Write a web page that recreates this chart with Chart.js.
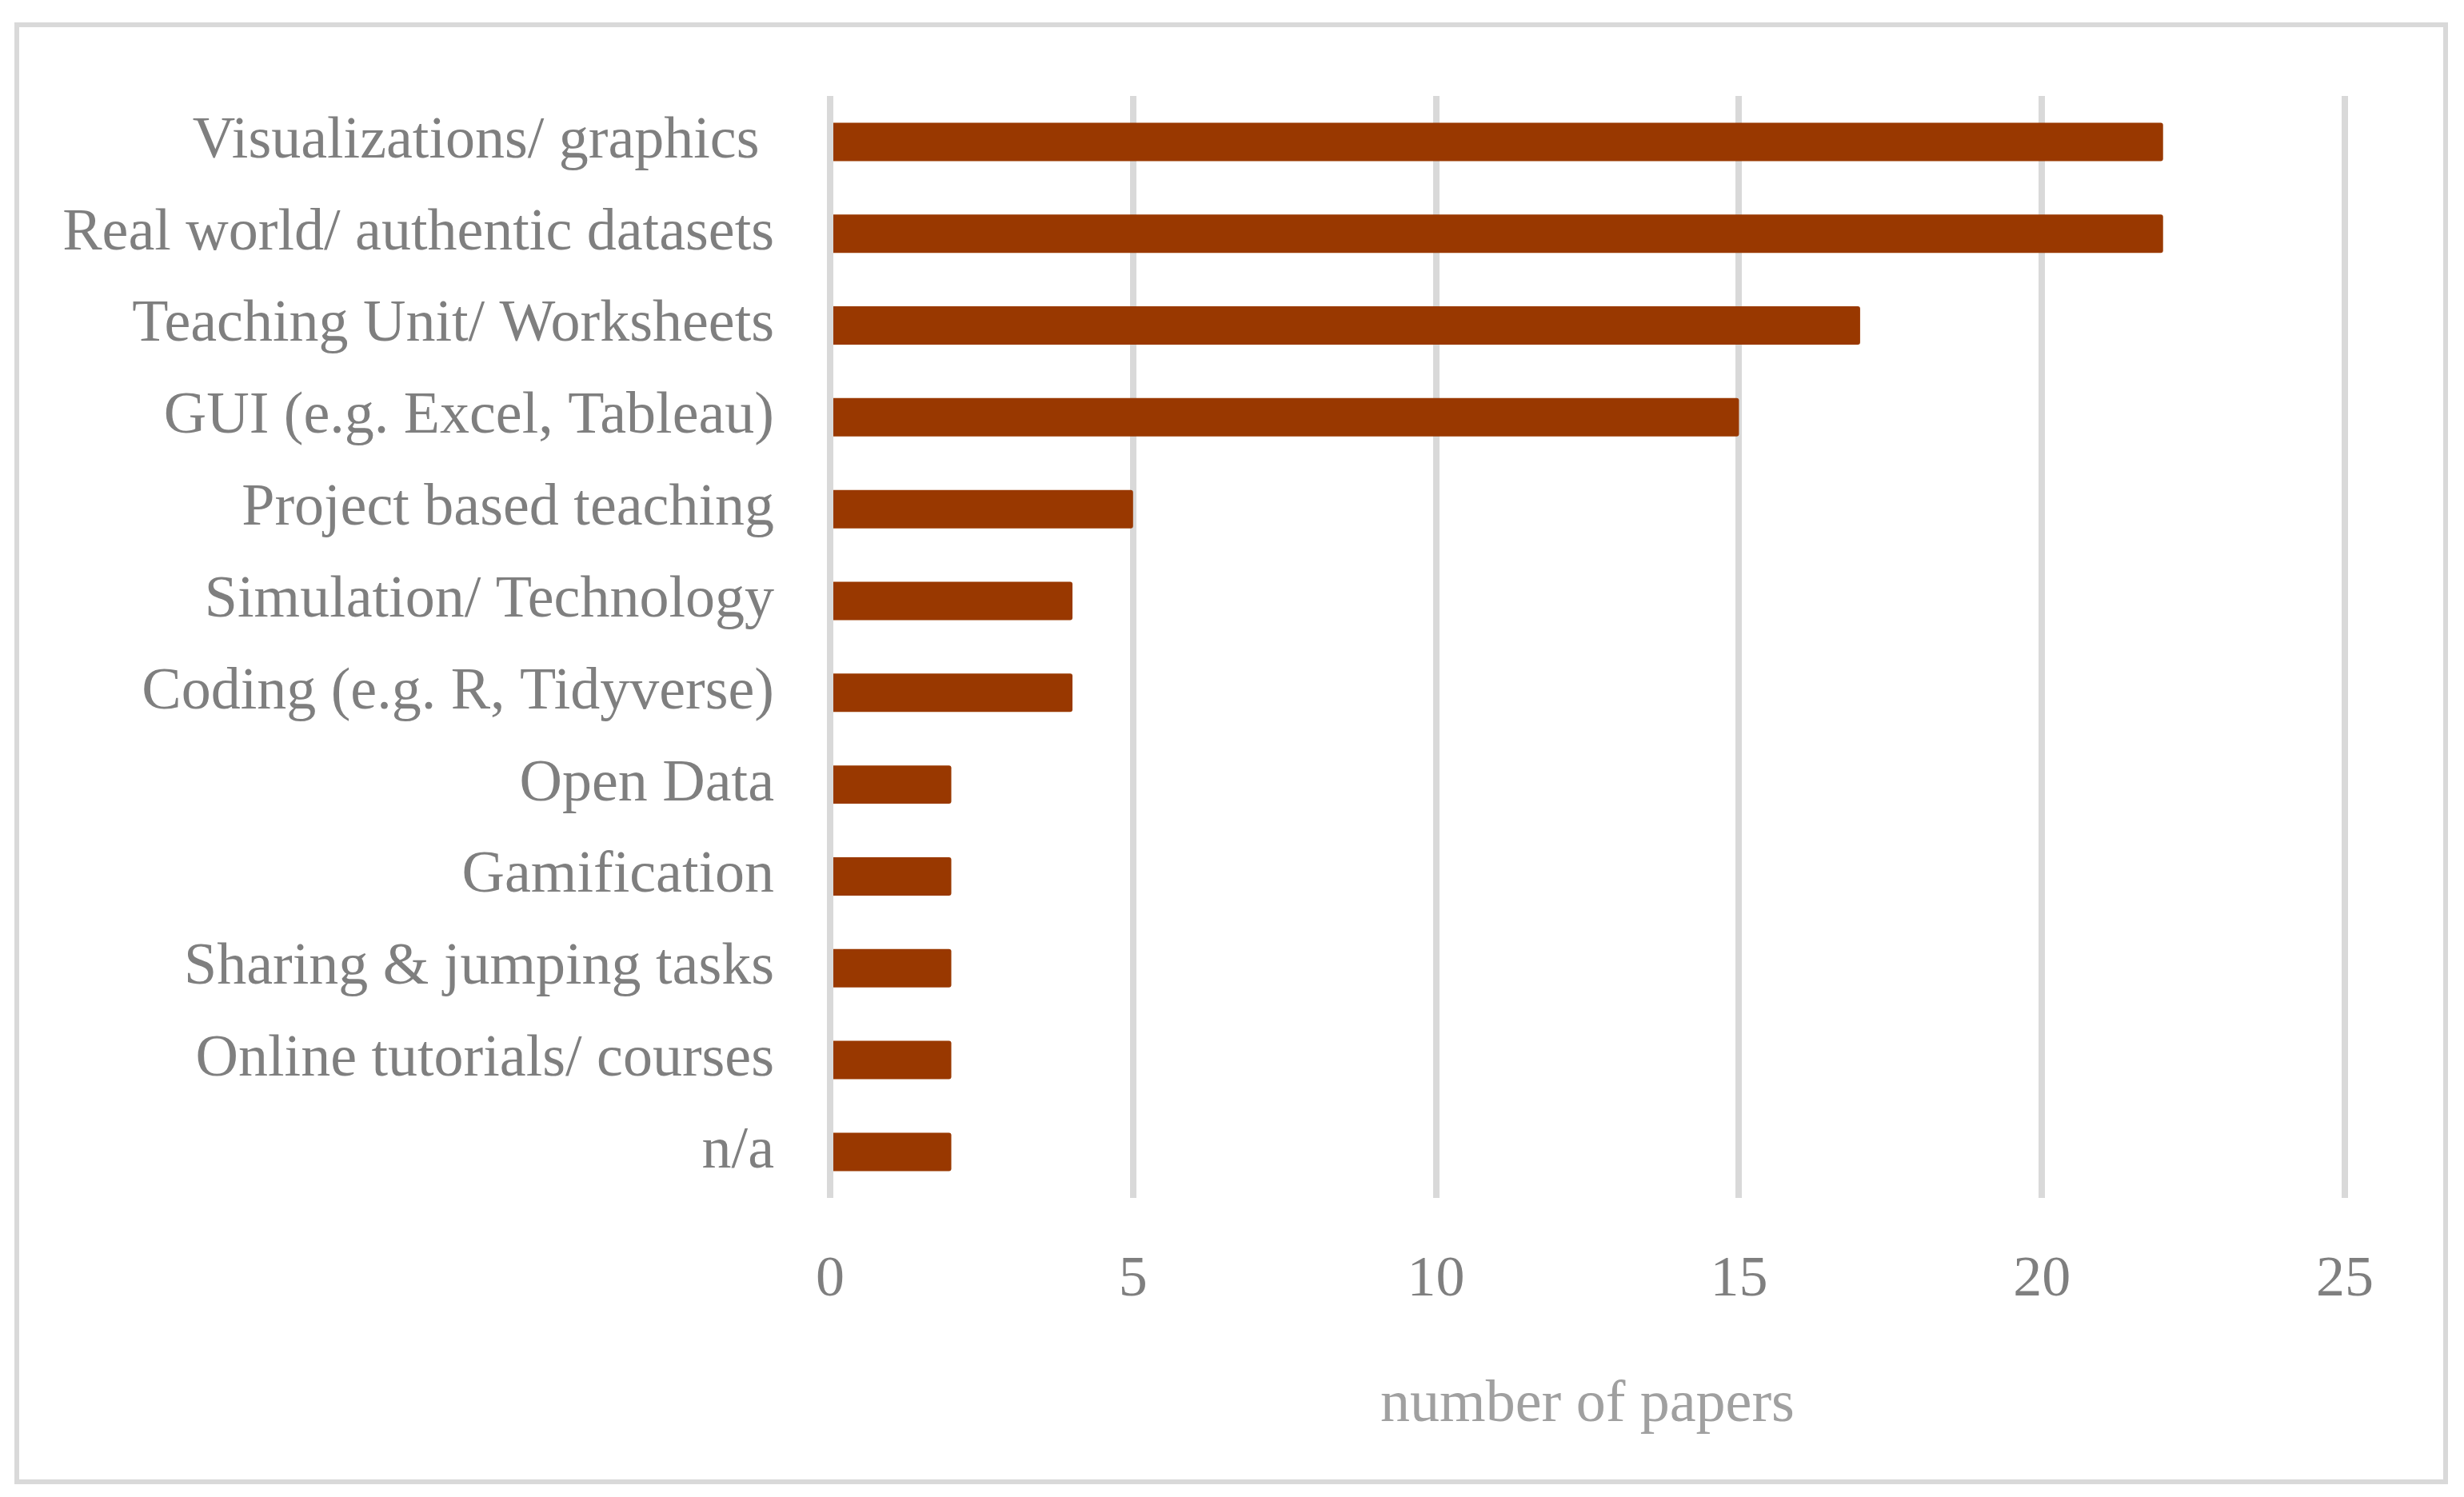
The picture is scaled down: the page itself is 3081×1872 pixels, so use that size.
<!DOCTYPE html>
<html>
<head>
<meta charset="utf-8">
<script src="https://cdn.jsdelivr.net/npm/chart.js@4/dist/chart.umd.min.js"></script>
<style>
	html, body { margin: 0; padding: 0; background: white; }
	canvas { display: block; }
</style>
</head>
<body>
<canvas id="chart" width="3081" height="1872"></canvas>
<script>
const categories = [
	'Visualizations/ graphics ',
	'Real world/ authentic datasets',
	'Teaching Unit/ Worksheets',
	'GUI (e.g. Excel, Tableau)',
	'Project based teaching',
	'Simulation/ Technology',
	'Coding (e.g. R, Tidyverse)',
	'Open Data',
	'Gamification',
	'Sharing & jumping tasks',
	'Online tutorials/ courses',
	'n/a'
];
const paperCounts = [22, 22, 17, 15, 5, 4, 4, 2, 2, 2, 2, 2];
const xTicks = [0, 5, 10, 15, 20, 25];
const axisTitle = 'number of papers';

// light grey frame round the whole figure
const framePlugin = {
	id: 'frame',
	beforeDraw: function (chart) {
		var ctx = chart.ctx;
		ctx.save();
		ctx.fillStyle = 'white';
		ctx.fillRect(0, 0, chart.width, chart.height);
		ctx.strokeStyle = '#d9d9d9';
		ctx.lineWidth = 6;
		ctx.strokeRect(21, 31, 3037, 1822);
		ctx.restore();
	}
};

window.onload = function () {
	var ctx = document.getElementById('chart').getContext('2d');
	new Chart(ctx, {
		type: 'bar',
		data: {
			labels: categories,
			datasets: [{
				data: paperCounts,
				backgroundColor: '#993800',
				borderRadius: 3,
				barPercentage: 0.418,
				categoryPercentage: 1
			}]
		},
		options: {
			indexAxis: 'y',
			responsive: false,
			devicePixelRatio: 1,
			animation: false,
			layout: {
				padding: { left: 0, top: 120, right: 149, bottom: 70 }
			},
			plugins: {
				legend: { display: false },
				tooltip: { enabled: false }
			},
			scales: {
				x: {
					min: xTicks[0],
					max: xTicks[xTicks.length - 1],
					afterBuildTicks: function (scale) {
						scale.ticks = xTicks.map((v) => ({ value: v }));
					},
					grid: {
						color: '#d9d9d9',
						lineWidth: 8,
						drawTicks: false
					},
					border: { display: false },
					ticks: {
						padding: 60,
						color: '#7f7f7f',
						font: { family: 'Liberation Serif', size: 72 }
					},
					title: {
						display: true,
						text: axisTitle,
						color: '#a0a0a0',
						padding: { top: 9, bottom: 0 },
						font: { family: 'Liberation Serif', size: 74 }
					}
				},
				y: {
					grid: { display: false, drawTicks: false },
					border: { display: false },
					afterFit: function (scale) {
						scale.width = 1038;
					},
					ticks: {
						padding: 70,
						color: '#7f7f7f',
						font: { family: 'Liberation Serif', size: 74 }
					}
				}
			}
		},
		plugins: [framePlugin]
	});
}
</script>
</body>
</html>
